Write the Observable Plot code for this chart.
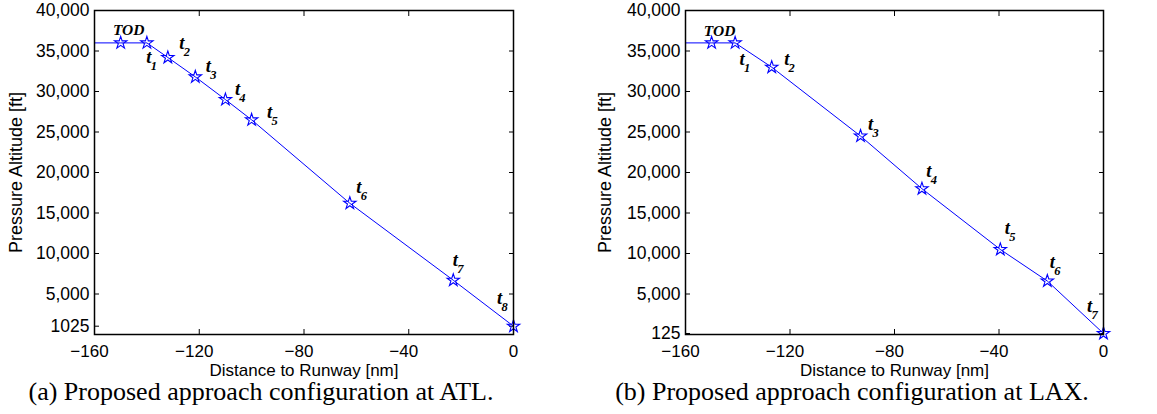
<!DOCTYPE html>
<html>
<head>
<meta charset="utf-8">
<script src="https://cdn.jsdelivr.net/npm/d3@7"></script>
<script src="https://cdn.jsdelivr.net/npm/@observablehq/plot@0.6"></script>
<style>
  body { margin: 0; background: #fff; }
  #fig { position: relative; width: 1157px; height: 414px; overflow: hidden; }
  .panel { position: absolute; top: 0; }
  .caption {
    position: absolute; top: 384px; transform: translateX(-50%);
    font-family: "Liberation Serif", serif; font-size: 26px; line-height: 15px;
    white-space: nowrap; color: #000;
  }
</style>
</head>
<body>
<div id="fig"></div>
<script>
// Descent profiles: distance to runway [nm] and pressure altitude [ft] at each waypoint
const atlLabels   = ["TOD", "t1", "t2", "t3", "t4", "t5", "t6", "t7", "t8"];
const atlDistance = [-150, -140, -132, -121.5, -110, -100, -62.5, -23, 0];
const atlAltitude = [36000, 36000, 34200, 31800, 29000, 26500, 16200, 6700, 1025];

const laxLabels   = ["TOD", "t1", "t2", "t3", "t4", "t5", "t6", "t7"];
const laxDistance = [-150, -141, -127, -93, -69.5, -39.5, -21.5, 0];
const laxAltitude = [36000, 36000, 33000, 24500, 18000, 10500, 6600, 125];

// Cruise segment begins at the left edge of the distance axis
const cruiseFrom = -160;

// Axis ticks
const xTicks    = [-160, -120, -80, -40, 0];
const atlYTicks = [1025, 5000, 10000, 15000, 20000, 25000, 30000, 35000, 40000];
const laxYTicks = [125, 5000, 10000, 15000, 20000, 25000, 30000, 35000, 40000];

const captions = [
  "(a) Proposed approach configuration at ATL.",
  "(b) Proposed approach configuration at LAX."
];

// Label placement (pixel offsets of each waypoint label from its marker)
const atlNudge = [[8, -13], [2, 14], [14, -14], [13, -11], [12, -11], [18, -8], [9, -16], [2, -20], [-14, -28]];
const laxNudge = [[8, -12], [7, 16], [15, -8], [10, -12], [7, -18], [7, -21], [5, -19], [-14, -27]];

const BLUE = "#0000ff";
const SANS = "Liberation Sans, Arial, sans-serif";
const SERIF = "Liberation Serif, Times New Roman, serif";
const fmtY = v => v < 5000 ? String(v) : d3.format(",")(v);
const blank = () => "";

function panel({labels, distance, altitude, yTicks, nudge, width, marginLeft, marginRight, yLabelDx}) {
  const pts = distance.map((d, i) => ({d, alt: altitude[i], label: labels[i]}));
  const path = [{d: cruiseFrom, alt: altitude[0]}, ...pts];

  const labelMarks = pts.flatMap((p, i) => {
    const [dx, dy] = nudge[i];
    const isT = p.label.startsWith("t");
    const common = {x: "d", y: "alt", fontFamily: SERIF, fontWeight: "bold", fontStyle: "italic", fill: "#000"};
    const marks = [Plot.text([p], {...common, text: () => isT ? "t" : p.label, dx, dy, fontSize: isT ? 18.5 : 15.5})];
    if (isT) marks.push(Plot.text([p], {...common, text: () => p.label.slice(1), dx: dx + 5, dy: dy + 9, fontSize: 12.5}));
    return marks;
  });

  return Plot.plot({
    width, height: 414,
    marginLeft, marginRight, marginTop: 10, marginBottom: 80,
    style: {fontFamily: SANS, fontSize: "17px", background: "transparent", overflow: "visible"},
    x: {domain: [-160, 0]},
    y: {domain: [0, 40000]},
    marks: [
      // tick labels
      Plot.axisX({ticks: xTicks.filter(v => v < 0), tickSize: 0, tickPadding: 10, dx: -5, label: null, fontSize: 17}),
      Plot.axisX({ticks: xTicks.filter(v => v >= 0), tickSize: 0, tickPadding: 10, label: null, fontSize: 17}),
      Plot.axisY({ticks: yTicks, tickSize: 0, tickPadding: 5, tickFormat: fmtY, label: null, fontSize: 17.5}),
      // inward ticks on all four sides
      Plot.axisX({anchor: "bottom", ticks: xTicks, tickSize: -5, tickFormat: blank, label: null}),
      Plot.axisX({anchor: "top", ticks: xTicks, tickSize: -5, tickFormat: blank, label: null}),
      Plot.axisY({anchor: "left", ticks: yTicks, tickSize: -5, tickFormat: blank, label: null}),
      Plot.axisY({anchor: "right", ticks: yTicks, tickSize: -5, tickFormat: blank, label: null}),
      // axis titles
      Plot.text(["Distance to Runway [nm]"], {frameAnchor: "bottom", lineAnchor: "middle", dy: 36, fontSize: 17, fill: "#000"}),
      Plot.text(["Pressure Altitude [ft]"], {frameAnchor: "left", textAnchor: "middle", lineAnchor: "middle", dx: yLabelDx, rotate: -90, fontSize: 18, fill: "#000"}),
      // profile
      Plot.line(path, {x: "d", y: "alt", stroke: BLUE, strokeWidth: 1}),
      Plot.dot(pts, {x: "d", y: "alt", symbol: "star", r: 3.9, stroke: BLUE, fill: "none", strokeWidth: 1.1}),
      ...labelMarks,
      Plot.frame({stroke: "#000", strokeWidth: 1.5})
    ]
  });
}

const fig = document.getElementById("fig");

const left = panel({labels: atlLabels, distance: atlDistance, altitude: atlAltitude, yTicks: atlYTicks,
  nudge: atlNudge, width: 560, marginLeft: 94, marginRight: 47, yLabelDx: -78});
left.classList.add("panel");
left.style.left = "0px";
fig.appendChild(left);

const right = panel({labels: laxLabels, distance: laxDistance, altitude: laxAltitude, yTicks: laxYTicks,
  nudge: laxNudge, width: 577, marginLeft: 105, marginRight: 54, yLabelDx: -80});
right.classList.add("panel");
right.style.left = "580px";
fig.appendChild(right);

[261, 852].forEach((cx, i) => {
  const c = document.createElement("div");
  c.className = "caption";
  c.style.left = cx + "px";
  c.textContent = captions[i];
  fig.appendChild(c);
});
</script>
</body>
</html>
